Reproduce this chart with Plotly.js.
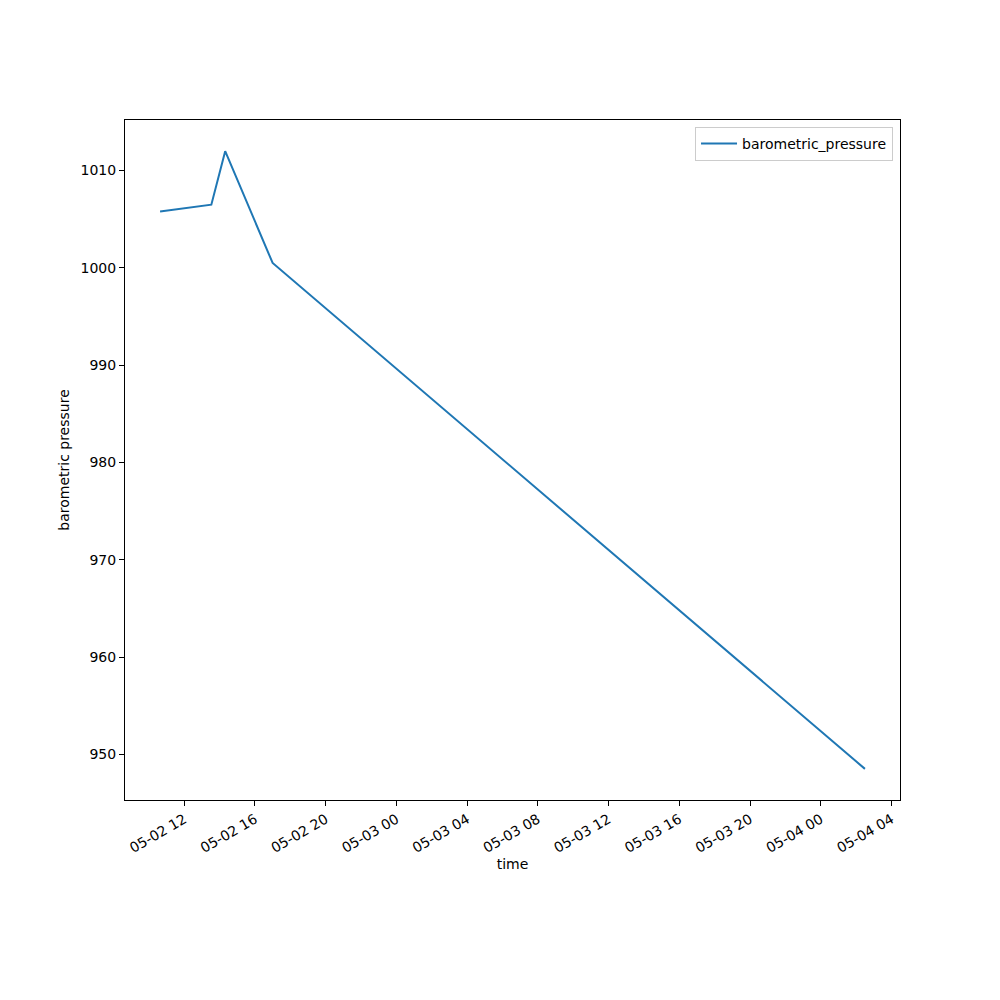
<!DOCTYPE html>
<html>
<head>
<meta charset="utf-8">
<script src="https://cdn.plot.ly/plotly-3.0.1.min.js"></script>
<style>html,body{margin:0;padding:0;background:#fff;}#chart{width:1000px;height:1000px;}</style>
</head>
<body>
<div id="chart"></div>
<script>
const times = ["2023-05-02 10:38", "2023-05-02 13:32", "2023-05-02 14:19", "2023-05-02 17:00", "2023-05-04 02:30"];
const pressure = [1005.8, 1006.5, 1012.0, 1000.5, 948.5];
const seriesName = "barometric_pressure";
const xTickVals = ["2023-05-02 12:00","2023-05-02 16:00","2023-05-02 20:00","2023-05-03 00:00","2023-05-03 04:00","2023-05-03 08:00","2023-05-03 12:00","2023-05-03 16:00","2023-05-03 20:00","2023-05-04 00:00","2023-05-04 04:00"];
const xTickText = ["05-02 12","05-02 16","05-02 20","05-03 00","05-03 04","05-03 08","05-03 12","05-03 16","05-03 20","05-04 00","05-04 04"];
const yTickVals = [950, 960, 970, 980, 990, 1000, 1010];

const trace = {
  x: times, y: pressure, type: 'scatter', mode: 'lines', name: seriesName,
  line: {color: '#1f77b4', width: 2}
};
const font = {family: 'DejaVu Sans, sans-serif', size: 14, color: '#000'};
const layout = {
  width: 1000, height: 1000,
  paper_bgcolor: '#fff', plot_bgcolor: '#fff',
  font: font,
  margin: {l: 125, r: 100, t: 120, b: 200},
  showlegend: true,
  legend: {x: 0.991, y: 0.99, xanchor: 'right', yanchor: 'top', bordercolor: '#cccccc', borderwidth: 1, bgcolor: 'rgba(255,255,255,0.8)', font: font, itemwidth: 36},
  xaxis: {
    type: 'date', range: ["2023-05-02 08:39", "2023-05-04 04:29"],
    tickvals: xTickVals, ticktext: xTickText, tickangle: -30,
    ticks: 'outside', ticklen: 5, tickcolor: '#000', showgrid: false, zeroline: false,
    showline: true, linecolor: '#000', linewidth: 1, mirror: true,
    title: {text: 'time', font: font, standoff: 4}
  },
  yaxis: {
    range: [945.3, 1015.2], tickvals: yTickVals,
    ticks: 'outside', ticklen: 5, tickcolor: '#000', showgrid: false, zeroline: false,
    showline: true, linecolor: '#000', linewidth: 1, mirror: true,
    title: {text: 'barometric pressure', font: font, standoff: 7}
  }
};
Plotly.newPlot('chart', [trace], layout, {displayModeBar: false});
</script>
</body>
</html>
